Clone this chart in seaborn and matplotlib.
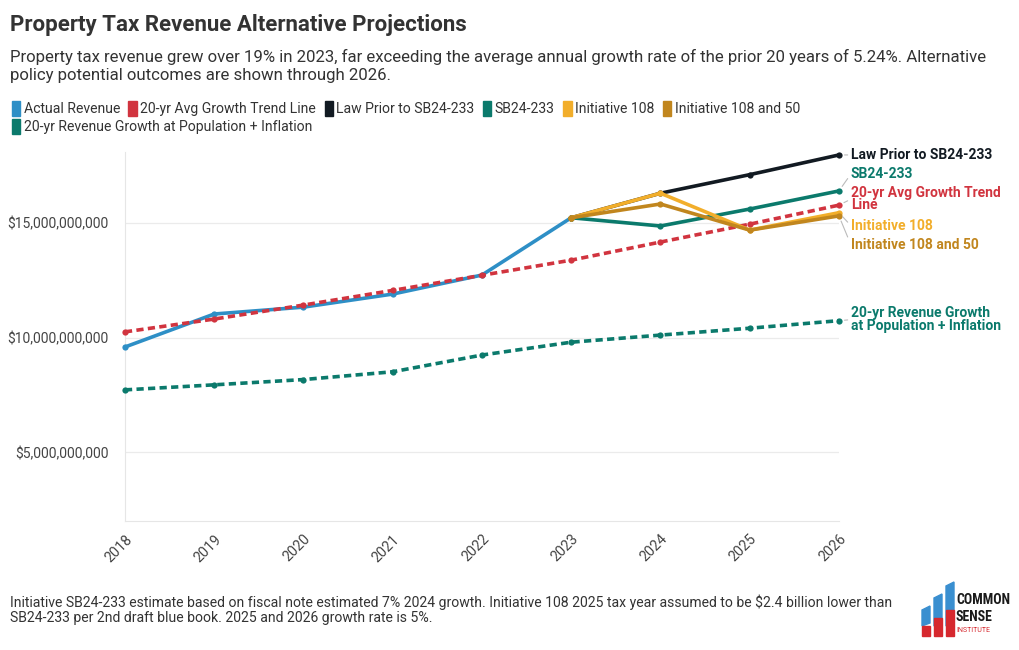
import matplotlib
matplotlib.use('Agg')
import matplotlib.pyplot as plt
import seaborn as sns
import pandas as pd
from matplotlib.patches import Patch, Polygon, Rectangle
from matplotlib.ticker import FuncFormatter

# Data (in dollars)
years = [2018, 2019, 2020, 2021, 2022, 2023, 2024, 2025, 2026]
actual = [9.59e9, 11.03e9, 11.33e9, 11.90e9, 12.73e9, 15.23e9]
trend = [10.25e9, 10.81e9, 11.42e9, 12.06e9, 12.72e9, 13.38e9, 14.17e9, 14.95e9, 15.78e9]
law_prior = [15.23e9, 16.30e9, 17.11e9, 17.97e9]
sb24 = [15.23e9, 14.87e9, 15.61e9, 16.40e9]
init108 = [15.23e9, 16.30e9, 14.69e9, 15.45e9]
init108_50 = [15.23e9, 15.83e9, 14.69e9, 15.31e9]
pop_infl = [7.72e9, 7.94e9, 8.17e9, 8.51e9, 9.24e9, 9.80e9, 10.11e9, 10.41e9, 10.74e9]

series = [
    ('Actual Revenue', years[:6], actual, '#2E8FC6', '-'),
    ('20-yr Avg Growth Trend Line', years, trend, '#D1343F', (0, (2, 1.2))),
    ('Law Prior to SB24-233', years[5:], law_prior, '#121A22', '-'),
    ('SB24-233', years[5:], sb24, '#0B7A6C', '-'),
    ('Initiative 108', years[5:], init108, '#F2AE2B', '-'),
    ('Initiative 108 and 50', years[5:], init108_50, '#C1861E', '-'),
    ('20-yr Revenue Growth at Population + Inflation', years, pop_infl, '#0B7A6C', (0, (2, 1.2))),
]

sns.set_style('white')
plt.rcParams['font.family'] = ['Roboto', 'DejaVu Sans']

fig = plt.figure(figsize=(10.2, 6.5), dpi=100)
ax = fig.add_axes([0.1225, 0.1985, 0.7, 0.5677])

for name, xs, ys, color, ls in series:
    df = pd.DataFrame({'year': xs, 'value': ys})
    sns.lineplot(data=df, x='year', y='value', ax=ax, color=color, linestyle=ls,
                 linewidth=2.6, marker='o', markersize=4.5, markeredgewidth=0,
                 clip_on=False, zorder=3)

ax.set_xlim(2018, 2026)
ax.set_ylim(2e9, 18.1e9)
ax.set_yticks([5e9, 10e9, 15e9])
ax.yaxis.set_major_formatter(FuncFormatter(lambda v, p: f'${v:,.0f}'))
ax.set_xticks(years)
ax.set_xticklabels([str(y) for y in years], rotation=45, ha='right', rotation_mode='anchor')
ax.set_xlabel('')
ax.set_ylabel('')
ax.grid(axis='y', color='#ebebeb', linewidth=0.9)
ax.tick_params(axis='y', length=0, labelsize=10, labelcolor='#444444', pad=12)
ax.tick_params(axis='x', length=5, color='#dddddd', labelsize=10.3, labelcolor='#444444', pad=3)
for s in ['top', 'right']:
    ax.spines[s].set_visible(False)
ax.spines['left'].set_color('#e6e6e6')
ax.spines['bottom'].set_color('#e6e6e6')

# Right-side end labels (offsets in pixels relative to last point)
end_labels = [
    ('Law Prior to SB24-233', law_prior[-1], '#121A22', 0),
    ('SB24-233', sb24[-1], '#0B7A6C', 17),
    ('20-yr Avg Growth Trend\nLine', trend[-1], '#D1343F', 6),
    ('Initiative 108', init108[-1], '#F2AE2B', -13),
    ('Initiative 108 and 50', init108_50[-1], '#C1861E', -29),
    ('20-yr Revenue Growth\nat Population + Inflation', pop_infl[-1], '#0B7A6C', 1),
]
for text, yv, color, dy in end_labels:
    ax.annotate(text, xy=(2026, yv), xytext=(12, dy), textcoords='offset pixels',
                va='center', ha='left', fontsize=10, fontweight='bold', color=color,
                linespacing=0.85, annotation_clip=False,
                arrowprops=dict(arrowstyle='-', color='#bbbbbb', lw=0.8,
                                shrinkA=0, shrinkB=4, relpos=(0, 0.5)))

# Title, subtitle
fig.text(0.0098, 0.962, 'Property Tax Revenue Alternative Projections', fontsize=16,
         fontweight='bold', color='#333333', va='center')
fig.text(0.0098, 0.898, 'Property tax revenue grew over 19% in 2023, far exceeding the average annual '
         'growth rate of the prior 20 years of 5.24%. Alternative\npolicy potential outcomes are '
         'shown through 2026.', fontsize=12.1, color='#333333', va='center', linespacing=1.25)

# Legend
handles = [Patch(facecolor=c, edgecolor=c, label=n, joinstyle='round', capstyle='round')
           for n, _, _, c, _ in series]
leg_kw = dict(frameon=False, fontsize=10.1, handlelength=0.6, handleheight=1.25,
              handletextpad=0.25, columnspacing=0.6, borderaxespad=0, labelcolor='#333333')
fig.legend(handles=handles[:6], loc='upper left', bbox_to_anchor=(0.006, 0.853),
           ncol=6, **leg_kw)
fig.legend(handles=handles[6:], loc='upper left', bbox_to_anchor=(0.006, 0.826), ncol=1, **leg_kw)

# Footer
fig.text(0.0098, 0.062, 'Initiative SB24-233 estimate based on fiscal note estimated 7% 2024 growth. '
         'Initiative 108 2025 tax year assumed to be $2.4 billion lower than\nSB24-233 per 2nd draft '
         'blue book. 2025 and 2026 growth rate is 5%.', fontsize=10.1, color='#333333',
         va='center', linespacing=1.15)

# Logo
lax = fig.add_axes([920 / 1020, 1 - 640 / 650, 92 / 1020, 62 / 650])
lax.set_xlim(0, 92)
lax.set_ylim(0, 62)
lax.axis('off')
blue = '#3A8FD0'
red = '#D6282E'
for x0, top in [(2, 30), (14, 42), (26, 54)]:
    lax.add_patch(Polygon([(x0, 14), (x0 + 8, 17), (x0 + 8, top + 4), (x0, top)], color=blue))
for x0, top in [(2, 14), (14, 22), (26, 30)]:
    lax.add_patch(Rectangle((x0, 4), 8, top - 4, color=red))
lax.text(36, 40, 'COMMON', fontsize=10, fontweight='bold', color='#1a1a1a', va='center',
         family=['Roboto Condensed', 'Roboto', 'DejaVu Sans'])
lax.text(36, 23, 'SENSE', fontsize=10, fontweight='bold', color='#1a1a1a', va='center',
         family=['Roboto Condensed', 'Roboto', 'DejaVu Sans'])
lax.text(36, 9, 'INSTITUTE', fontsize=5, color=red, va='center')

fig.savefig('out.png', dpi=100)
